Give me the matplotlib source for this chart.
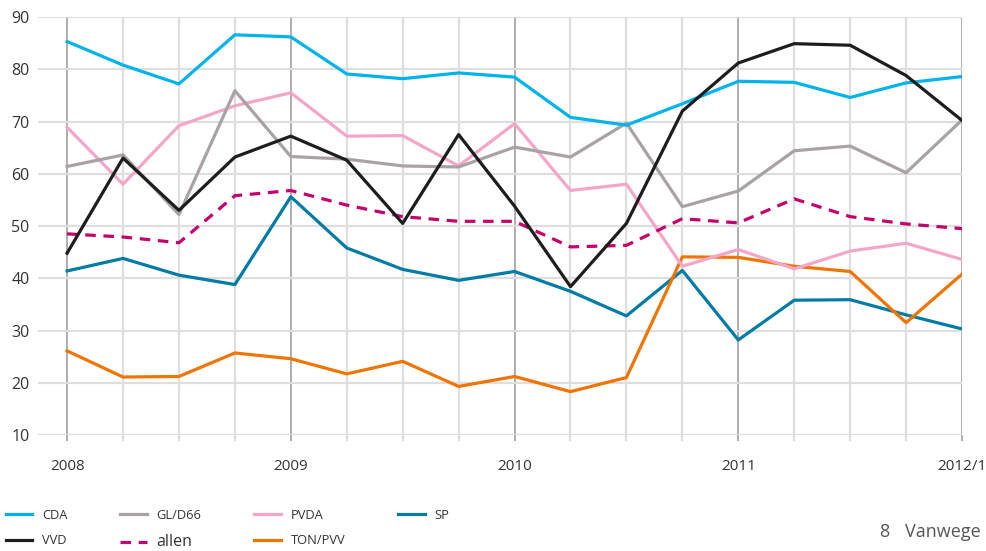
import matplotlib.pyplot as plt
from matplotlib.ticker import FixedLocator, NullFormatter

plt.rcParams['font.family'] = ['Open Sans', 'DejaVu Sans']

# quarters from 2008 to 2012/1
quarters = list(range(17))
year_labels = ['2008', '2009', '2010', '2011', '2012/1']

cda = [85.3, 80.8, 77.2, 86.6, 86.2, 79.1, 78.2, 79.3, 78.5, 70.8, 69.3, 73.4, 77.7, 77.5, 74.6, 77.4, 78.6]
vvd = [44.8, 63.0, 53.0, 63.2, 67.2, 62.6, 50.5, 67.5, 53.8, 38.4, 50.5, 72.0, 81.2, 84.9, 84.6, 78.8, 70.2]
gl_d66 = [61.4, 63.6, 52.2, 75.9, 63.3, 62.8, 61.5, 61.3, 65.1, 63.2, 69.7, 53.7, 56.7, 64.4, 65.3, 60.2, 70.3]
pvda = [68.9, 58.0, 69.2, 73.0, 75.5, 67.2, 67.3, 61.5, 69.6, 56.8, 58.0, 42.3, 45.5, 41.8, 45.2, 46.7, 43.6]
allen = [48.5, 47.9, 46.8, 55.8, 56.8, 54.0, 51.8, 50.9, 50.9, 46.0, 46.3, 51.4, 50.6, 55.2, 51.8, 50.4, 49.5]
sp = [41.4, 43.8, 40.6, 38.8, 55.6, 45.8, 41.7, 39.6, 41.3, 37.5, 32.8, 41.5, 28.2, 35.8, 35.9, 33.0, 30.3]
ton_pvv = [26.1, 21.1, 21.2, 25.7, 24.6, 21.7, 24.1, 19.3, 21.2, 18.3, 21.0, 44.1, 44.0, 42.3, 41.3, 31.5, 40.8]

fig = plt.figure(figsize=(9.87, 5.51), dpi=100)
ax = fig.add_axes([0.0385, 0.2105, 0.9362, 0.7586])

lw = 2.3
ax.plot(quarters, sp, color='#007ba5', lw=lw, label='SP', zorder=3)
ax.plot(quarters, ton_pvv, color='#f07400', lw=lw, label='TON/PVV', zorder=3)
ax.plot(quarters, pvda, color='#f4a6c8', lw=lw, label='PVDA', zorder=3)
ax.plot(quarters, gl_d66, color='#a8a2a3', lw=lw, label='GL/D66', zorder=3)
ax.plot(quarters, allen, color='#c4006c', lw=lw, ls=(0, (3.3, 2.4)), label='allen', zorder=3)
ax.plot(quarters, cda, color='#00b4eb', lw=lw, label='CDA', zorder=3)
ax.plot(quarters, vvd, color='#1d1d1b', lw=lw, label='VVD', zorder=3)

ax.set_xlim(-0.52, 16)
ax.set_ylim(10, 90)
ax.set_yticks(range(10, 91, 10))

ax.xaxis.set_major_locator(FixedLocator([0, 4, 8, 12, 16]))
ax.xaxis.set_minor_locator(FixedLocator([q for q in quarters if q % 4 != 0]))
ax.set_xticklabels(year_labels)
ax.xaxis.set_minor_formatter(NullFormatter())

ax.grid(axis='y', color='#dedede', lw=1.6)
ax.grid(axis='x', which='major', color='#aaa5a6', lw=1.3)
ax.grid(axis='x', which='minor', color='#dedede', lw=1.6)
ax.set_axisbelow(True)

ax.tick_params(axis='x', which='major', length=4.5, width=1.3, color='#aaa5a6',
               pad=13, labelsize=11, labelcolor='#333333')
ax.tick_params(axis='x', which='minor', length=4.5, width=1.6, color='#dedede')
ax.tick_params(axis='y', length=0, pad=6, labelsize=11.5, labelcolor='#333333')

for s in ax.spines.values():
    s.set_visible(False)

# legend in the column order of the reference
handles, labels = ax.get_legend_handles_labels()
order = ['CDA', 'VVD', 'GL/D66', 'allen', 'PVDA', 'TON/PVV', 'SP']
hmap = dict(zip(labels, handles))
leg = fig.legend([hmap[k] for k in order], order, loc='upper left',
                 bbox_to_anchor=(0.006, 0.077), ncol=4, frameon=False,
                 fontsize=9.3, handlelength=2.05, handletextpad=0.75,
                 columnspacing=4.1, labelspacing=1.0, borderpad=0,
                 borderaxespad=0)
for t in leg.get_texts():
    t.set_color('#333333')
    if t.get_text() == 'allen':
        t.set_fontsize(11.5)

fig.text(0.896, 0.034, '8', fontsize=13, color='#555555', va='center', ha='center')
fig.text(0.917, 0.034, 'Vanwege', fontsize=13, color='#555555', va='center', ha='left')

fig.savefig('out.png', dpi=100)
